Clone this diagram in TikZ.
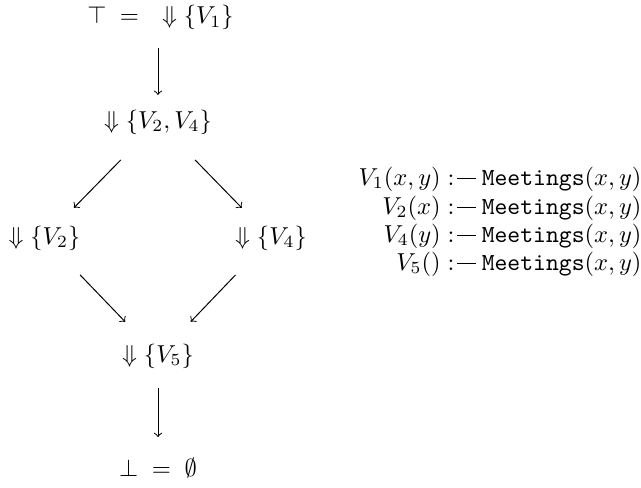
\documentclass[tikz,border=0pt]{standalone}
\tikzset{
  lattice/.style={anchor=base, inner sep=0pt, outer sep=0pt},
  rulebody/.style={anchor=base east, inner sep=0pt, outer sep=0pt},
  order/.style={->, line width=0.4pt},
}
% the ":-" of a Datalog rule
\newcommand{\ruleneck}{\mathrel{{:}\kern1.2pt\rule[2.3pt]{7.6pt}{0.4pt}\kern-0.4pt}}
\newcommand{\meetxy}{\texttt{Meetings}(x,y)}
\begin{document}
\begin{tikzpicture}[x=0.408163pt, y=-0.408163pt]
\useasboundingbox (0,0) rectangle (641,487);

% lattice of view sets
\node[lattice] (top)   at (160.5,24) {$\top \;=\; \mkern12mu\Downarrow\{V_1\}$};
\node[lattice] (mid)   at (158,128) {$\Downarrow\{V_2,V_4\}$};
\node[lattice] (left)  at (44.5,244) {$\Downarrow\{V_2\}$};
\node[lattice] (right) at (271,244) {$\Downarrow\{V_4\}$};
\node[lattice] (low)   at (158,362) {$\Downarrow\{V_5\}$};
\node[lattice] (bot)   at (158,476) {$\bot \;=\; \emptyset$};

\draw[order, shorten <=12.2pt, shorten >=11.0pt] (top.center -| mid.center) -- (mid.center);
\draw[order, shorten <=21.7pt, shorten >=17.2pt] (mid.center) -- (left.center);
\draw[order, shorten <=21.7pt, shorten >=17.1pt] (mid.center) -- (right.center);
\draw[order, shorten <=20.9pt, shorten >=19.3pt] (left.center) -- (low.center);
\draw[order, shorten <=20.9pt, shorten >=19.3pt] (right.center) -- (low.center);
\draw[order, shorten <=13.1pt, shorten >=12.4pt] (low.center) -- (bot.center);

% view definitions
\node[rulebody] (v1) at (641.5,185) {$V_1(x,y) \ruleneck \meetxy$};
\node[rulebody] (v2) at (641.5,214) {$V_2(x) \ruleneck \meetxy$};
\node[rulebody] (v4) at (641.5,242) {$V_4(y) \ruleneck \meetxy$};
\node[rulebody] (v5) at (641.5,270) {$V_5() \ruleneck \meetxy$};
\end{tikzpicture}
\end{document}
